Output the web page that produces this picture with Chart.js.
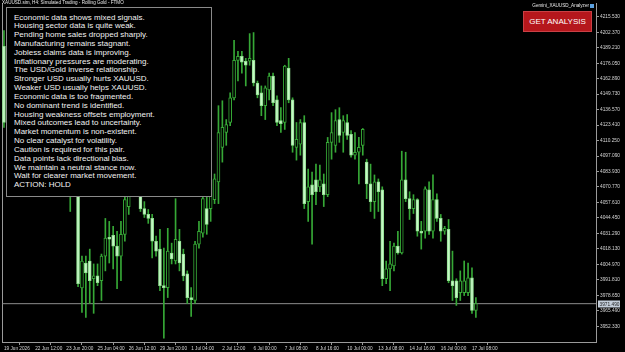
<!DOCTYPE html>
<html>
<head>
<meta charset="utf-8">
<script src="https://cdn.jsdelivr.net/npm/chart.js"></script>
<style>
  body { margin: 0; background: #000; }
  #wrap { position: relative; width: 625px; height: 352px; overflow: hidden; background: #000; }
  #chart { position: absolute; left: 0; top: 0; }
  #title { position: absolute; left: 2px; top: 0px; font: 4.6px "Liberation Sans", Arial, sans-serif; color: #e8e8e8; white-space: nowrap; }
  #panel { position: absolute; left: 6px; top: 7px; width: 204px; height: 188px; background: #000; border: 1px solid #8a8a8a;
           box-sizing: content-box; padding: 0; }
  #panel div { position: absolute; left: 7px; top: 5.5px; font: 8px "Liberation Sans", Arial, sans-serif; line-height: 8.83px; color: #f2f2f2; white-space: pre; }
  #ea { position: absolute; right: 31px; top: 3px; font: 4.6px "Liberation Sans", Arial, sans-serif; color: #e8e8e8; white-space: nowrap; }
  #ea span { display: inline-block; width: 4px; height: 4px; background: #5aa0e0; margin-left: 1px; vertical-align: -0.5px; }
  #btn { position: absolute; left: 523px; top: 11px; width: 67px; height: 19px; background: #b5171c; border: 1px solid #c94045;
         font: 8px "Liberation Sans", Arial, sans-serif; color: #fff; text-align: center; line-height: 19px; }
</style>
</head>
<body>
<div id="wrap">
  <canvas id="chart" width="625" height="352"></canvas>
  <div id="title">XAUUSD.sim, H4:  Simulated Trading - Rolling Gold - FTMO</div>
  <div id="panel"><div>Economic data shows mixed signals.
Housing sector data is quite weak.
Pending home sales dropped sharply.
Manufacturing remains stagnant.
Jobless claims data is improving.
Inflationary pressures are moderating.
The USD/Gold inverse relationship.
Stronger USD usually hurts XAUUSD.
Weaker USD usually helps XAUUSD.
Economic data is too fragmented.
No dominant trend is identified.
Housing weakness offsets employment.
Mixed outcomes lead to uncertainty.
Market momentum is non-existent.
No clear catalyst for volatility.
Caution is required for this pair.
Data points lack directional bias.
We maintain a neutral stance now.
Wait for clearer market movement.
ACTION: HOLD</div></div>
  <div id="ea">Gemini_XAUUSD_Analyzer<span></span></div>
  <div id="btn">GET ANALYSIS</div>
</div>
<script>
// H4 candles, one entry per bar. null = bar is hidden behind the text panel
const open = [
  4190.3, null, null, null, null, null, null, null,
  null, null, null, null, null, null, null, null,
  null, 4100.3, null, 4091.9, 3985.0, 4006.1, 4007.8, 3992.7,
  3995.2, 3991.0, 4012.0, 4028.0, 4029.7, 4020.4, 4012.0, 4030.5,
  4054.1, null, null, 4075.1, 4052.4, 4047.4, 4044.0, 4024.6,
  4017.9, 3986.8, 3985.1, 4014.6, 4007.8, 4024.6, 4013.7, 3996.9,
  3976.7, 3974.2, 4022.1, 4031.4, 4052.4, 4052.4, 4060.0, 4075.1,
  4104.5, 4117.1, 4125.6, 4146.6, 4178.5, 4181.9, 4177.7, 4177.7,
  4178.5, 4159.2, 4150.8, 4139.9, 4153.3, 4165.1, 4144.9, 4127.2,
  4125.6, 4171.8, 4144.9, 4104.5, 4107.1, 4125.6, 4058.3, 4072.6,
  4076.8, 4070.9, 4073.4, 4064.2, 4108.7, 4106.2, 4128.1, 4117.1,
  4125.6, 4115.5, 4097.8, 4100.3, 4106.2, 4091.9, 4073.4, 4058.3,
  4075.1, 4068.4, 3992.7, 4001.1, 4003.6, 4020.4, 4014.6, 4076.8,
  4060.8, 4052.4, 4060.0, 4033.1, 4033.1, 4068.4, 4033.1, 4060.0,
  4044.0, 4033.1, 4034.7, 3991.0, 3991.0, 3980.9, 3980.9, 3980.9,
  3993.5, 3965.8
];
const high = [
  4203.8, null, null, null, null, null, null, null,
  null, null, null, null, null, null, null, null,
  null, 4108.7, null, 4100.3, 4012.0, 4012.0, 4017.9, 4005.3,
  4005.3, 4013.7, 4044.0, 4041.5, 4037.3, 4033.1, 4041.5, 4064.2,
  4091.9, null, null, 4079.3, 4058.3, 4051.6, 4047.4, 4028.9,
  4034.7, 4018.8, 4035.6, 4023.0, 4060.8, 4034.7, 4017.9, 3999.4,
  3985.1, 4024.6, 4041.5, 4062.5, 4069.2, 4079.3, 4081.8, 4139.9,
  4144.1, 4128.1, 4150.8, 4195.4, 4186.1, 4186.1, 4180.2, 4201.2,
  4202.1, 4160.9, 4156.7, 4156.7, 4167.6, 4167.6, 4148.3, 4138.2,
  4174.3, 4180.2, 4146.6, 4125.6, 4128.1, 4131.4, 4086.0, 4083.5,
  4090.2, 4089.4, 4081.8, 4112.9, 4134.0, 4136.5, 4138.2, 4131.4,
  4132.3, 4118.8, 4117.1, 4112.9, 4120.5, 4094.4, 4090.2, 4081.0,
  4077.6, 4070.9, 4007.8, 4024.6, 4023.0, 4033.1, 4101.2, 4100.3,
  4066.7, 4064.2, 4060.8, 4041.5, 4070.9, 4075.1, 4081.0, 4065.0,
  4047.4, 4037.3, 4043.1, 4016.2, 3992.7, 3999.4, 4007.8, 4006.1,
  4001.9, 3976.7
];
const low = [
  4121.4, null, null, null, null, null, null, null,
  null, null, null, null, null, null, null, null,
  null, 4049.9, null, 3986.0, 3964.1, 3959.9, 3971.7, 3963.3,
  3986.8, 3974.2, 3999.4, 4006.1, 4001.1, 3984.3, 3991.0, 4024.6,
  4047.4, null, null, 4049.9, 4044.8, 4039.8, 4010.4, 4012.0,
  3982.6, 3942.2, 3976.7, 4005.3, 4005.3, 3999.4, 3991.0, 3971.7,
  3960.7, 3971.7, 4018.8, 4028.0, 4030.5, 4041.5, 4056.6, 4056.6,
  4091.9, 4106.2, 4123.0, 4144.9, 4160.9, 4167.6, 4156.7, 4174.3,
  4156.7, 4146.6, 4131.4, 4128.1, 4144.9, 4139.9, 4123.0, 4117.1,
  4119.7, 4142.4, 4100.3, 4093.6, 4097.8, 4052.4, 4041.5, 4022.1,
  4055.8, 4066.7, 4054.1, 4062.5, 4094.4, 4100.3, 4108.7, 4100.3,
  4111.3, 4096.1, 4094.4, 4073.4, 4097.8, 4060.8, 4049.9, 4044.0,
  4049.9, 3986.8, 3988.5, 3982.6, 3999.4, 4013.7, 4013.7, 4058.3,
  4043.1, 4048.2, 4028.9, 4017.9, 4027.2, 4030.5, 4027.2, 4041.5,
  4024.6, 4030.5, 3989.3, 3974.2, 3970.0, 3974.2, 3978.4, 3978.4,
  3963.3, 3959.9
];
const close = [
  4125.6, null, null, null, null, null, null, null,
  null, null, null, null, null, null, null, null,
  null, 4066.7, null, 3988.5, 4007.8, 3997.7, 3991.0, 3995.2,
  3989.3, 4012.0, 4027.2, 4026.3, 4020.4, 4012.0, 4030.5, 4060.0,
  4083.5, null, null, 4052.4, 4047.4, 4044.0, 4024.6, 4016.2,
  3986.8, 3985.1, 4016.2, 4009.5, 4026.3, 4006.1, 3995.2, 3976.7,
  3975.0, 4022.1, 4033.1, 4060.8, 4038.9, 4076.8, 4077.6, 4117.1,
  4121.4, 4123.9, 4146.6, 4178.5, 4181.9, 4176.9, 4174.3, 4180.2,
  4159.2, 4149.1, 4139.9, 4155.0, 4165.1, 4142.4, 4125.6, 4124.7,
  4173.5, 4144.9, 4106.2, 4111.3, 4125.6, 4056.6, 4070.9, 4064.2,
  4066.7, 4076.8, 4064.2, 4108.7, 4117.1, 4127.2, 4114.6, 4127.2,
  4114.6, 4097.8, 4100.3, 4104.5, 4119.7, 4073.4, 4058.3, 4075.1,
  4066.7, 3992.7, 4001.1, 4005.3, 4020.4, 4014.6, 4076.8, 4060.8,
  4052.4, 4060.0, 4033.1, 4031.4, 4069.2, 4033.1, 4060.0, 4044.0,
  4033.1, 4035.6, 3991.0, 3986.8, 3976.7, 3991.0, 3991.0, 3993.5,
  3965.8, 3971.5
];

// bottom axis labels, one every 8 bars
const timeLabels = [
  '19 Jun 2026', '22 Jun 12:00', '23 Jun 20:00', '25 Jun 04:00',
  '26 Jun 12:00', '29 Jun 20:00', '1 Jul 04:00', '2 Jul 12:00',
  '6 Jul 00:00', '7 Jul 08:00', '8 Jul 16:00', '10 Jul 00:00',
  '13 Jul 08:00', '14 Jul 16:00', '16 Jul 00:00', '17 Jul 08:00'
];
// right axis price levels
const priceTicks = [
  4215.53, 4202.37, 4189.21, 4176.05, 4162.89, 4149.73, 4136.57,
  4123.41, 4110.25, 4097.09, 4083.93, 4070.77, 4057.61, 4044.45,
  4031.29, 4018.13, 4004.97, 3991.81, 3978.65, 3965.49, 3952.33
];
const lastPrice = 3971.49;

const GREEN = '#36a836';
const BEAR_FILL = '#c6f7c6';
const BEAR_EDGE = '#8fe08f';

// visible window (chart scrolled with empty space on the right)
const xMin = -0.5, xMax = 151.8;
const yMin = 3938.9, yMax = 4226.5;

const wickData = [], bodyData = [], bodyFill = [], bodyEdge = [];
for (let i = 0; i < open.length; i++) {
    if (open[i] === null) continue;
    wickData.push({ x: i, y: [low[i], high[i]] });
    bodyData.push({ x: i, y: [open[i], close[i]] });
    const bear = close[i] < open[i];
    bodyFill.push(bear ? BEAR_FILL : '#000000');
    bodyEdge.push(bear ? BEAR_EDGE : GREEN);
}

// current price tag on the right axis
const priceTag = {
    id: 'priceTag',
    afterDraw(chart) {
        const c = chart.ctx;
        const y = Math.round(chart.scales.y.getPixelForValue(lastPrice));
        const left = chart.chartArea.right + 2;
        c.save();
        c.fillStyle = '#c4ceda';
        c.fillRect(left, y - 3.5, 22, 7);
        c.fillStyle = '#222';
        c.font = '4.8px "Liberation Sans", Arial, sans-serif';
        c.textBaseline = 'middle';
        c.fillText(lastPrice.toFixed(3), left + 1.5, y + 0.5);
        c.restore();
    }
};

Chart.defaults.font.family = '"Liberation Sans", Arial, sans-serif';

new Chart(document.getElementById('chart').getContext('2d'), {
    type: 'bar',
    data: {
        datasets: [
            {
                label: 'body',
                data: bodyData,
                backgroundColor: bodyFill,
                borderColor: bodyEdge,
                borderWidth: 1,
                borderSkipped: false,
                barThickness: 3,
                grouped: false,
                order: 0
            },
            {
                label: 'wick',
                data: wickData,
                backgroundColor: GREEN,
                barThickness: 1,
                grouped: false,
                order: 1
            },
            {
                type: 'line',
                label: 'price',
                data: [{ x: xMin, y: lastPrice }, { x: xMax, y: lastPrice }],
                borderColor: '#8c8c8c',
                borderWidth: 1,
                pointRadius: 0,
                order: 2
            }
        ]
    },
    options: {
        responsive: false,
        animation: false,
        devicePixelRatio: 1,
        layout: { padding: 0 },
        plugins: { legend: { display: false }, tooltip: { enabled: false } },
        scales: {
            x: {
                type: 'linear',
                min: xMin,
                max: xMax,
                offset: false,
                afterBuildTicks: s => { s.ticks = timeLabels.map((t, k) => ({ value: k * 8 })); },
                afterFit: s => { s.height = 10; },
                ticks: {
                    callback: v => timeLabels[Math.round(v / 8)],
                    align: 'start',
                    maxRotation: 0,
                    autoSkip: false,
                    font: { size: 4.7 },
                    color: '#d6d6d6',
                    padding: 1
                },
                grid: { drawOnChartArea: false, tickLength: 3, color: '#9a9a9a' },
                border: { color: '#9a9a9a' }
            },
            y: {
                type: 'linear',
                position: 'right',
                min: yMin,
                max: yMax,
                afterBuildTicks: s => { s.ticks = priceTicks.map(v => ({ value: v })); },
                afterFit: s => { s.width = 29; },
                ticks: {
                    callback: v => v.toFixed(3),
                    font: { size: 4.8 },
                    color: '#d6d6d6',
                    padding: 1
                },
                grid: { drawOnChartArea: false, tickLength: 3, color: '#9a9a9a' },
                border: { color: '#9a9a9a' }
            },
            yL: {
                type: 'linear',
                position: 'left',
                afterFit: s => { s.width = 2; },
                ticks: { display: false },
                grid: { drawOnChartArea: false, drawTicks: false },
                border: { color: '#9a9a9a' }
            }
        }
    },
    plugins: [priceTag]
});
</script>
</body>
</html>
